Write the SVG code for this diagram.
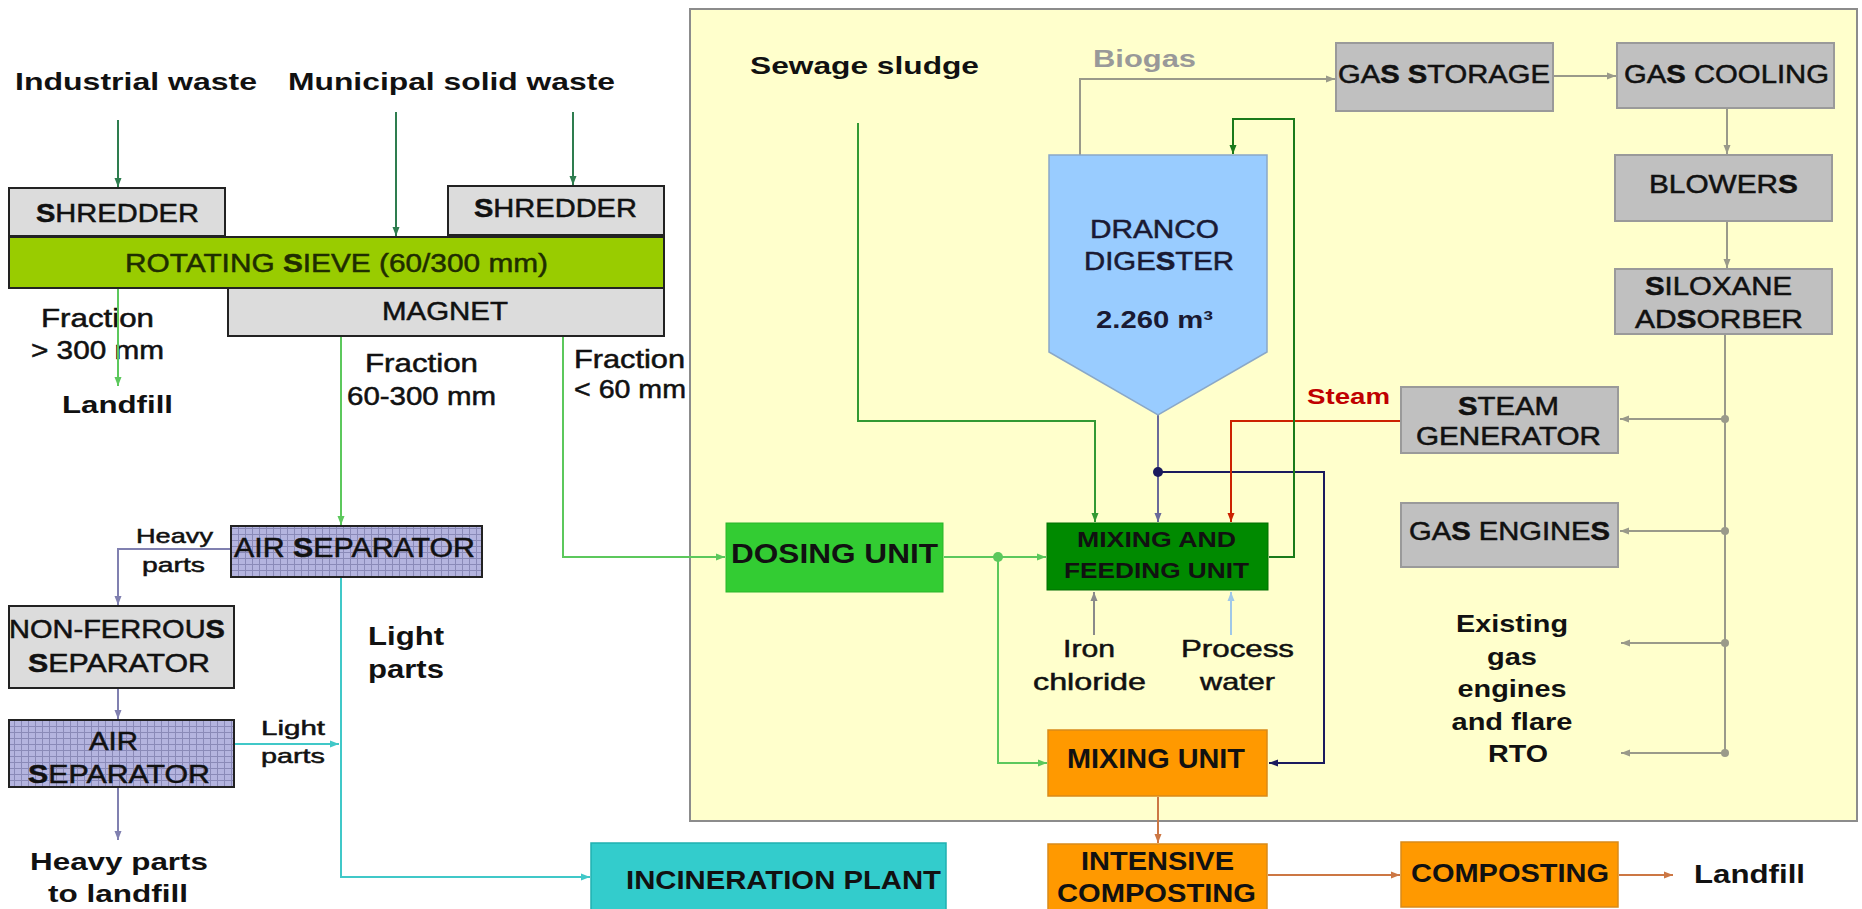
<svg xmlns="http://www.w3.org/2000/svg" width="1862" height="909" viewBox="0 0 1862 909">
<style>
text{font-family:"Liberation Sans",Arial,sans-serif;fill:#111;stroke:#111;stroke-width:0.5;}
.b{font-weight:bold;stroke:none;}
.bs{font-weight:bold;}
.lbl{font-size:24px;font-weight:bold;stroke:none;}
.box{stroke:#222;stroke-width:2;}
.lg{fill:#dcdcdc;}
.gg{fill:#c0c0c0;stroke:#9a9a9a;stroke-width:2;}
.or{fill:#ff9900;stroke:#d98a1a;stroke-width:1.5;}
.ln{fill:none;stroke-width:2;}
</style>
<defs>
<pattern id="grid" width="7" height="6" patternUnits="userSpaceOnUse">
<rect width="7" height="6" fill="#b4b4df"/>
<path d="M0.5,0 V6 M0,0.5 H7" stroke="#8a8ab8" stroke-width="1"/>
</pattern>
<marker id="aDG" markerWidth="10" markerHeight="8" refX="9" refY="4" orient="auto" markerUnits="userSpaceOnUse"><path d="M0,0.5 L9,4 L0,7.5 Z" fill="#2e7d4f"/></marker>
<marker id="aLG" markerWidth="10" markerHeight="8" refX="9" refY="4" orient="auto" markerUnits="userSpaceOnUse"><path d="M0,0.5 L9,4 L0,7.5 Z" fill="#5cc85c"/></marker>
<marker id="aLV" markerWidth="10" markerHeight="8" refX="9" refY="4" orient="auto" markerUnits="userSpaceOnUse"><path d="M0,0.5 L9,4 L0,7.5 Z" fill="#8080b0"/></marker>
<marker id="aCY" markerWidth="10" markerHeight="8" refX="9" refY="4" orient="auto" markerUnits="userSpaceOnUse"><path d="M0,0.5 L9,4 L0,7.5 Z" fill="#40c8c8"/></marker>
<marker id="aGR" markerWidth="10" markerHeight="8" refX="9" refY="4" orient="auto" markerUnits="userSpaceOnUse"><path d="M0,0.5 L9,4 L0,7.5 Z" fill="#9a9a8a"/></marker>
<marker id="aSG" markerWidth="10" markerHeight="8" refX="9" refY="4" orient="auto" markerUnits="userSpaceOnUse"><path d="M0,0.5 L9,4 L0,7.5 Z" fill="#339933"/></marker>
<marker id="aPG" markerWidth="10" markerHeight="8" refX="9" refY="4" orient="auto" markerUnits="userSpaceOnUse"><path d="M0,0.5 L9,4 L0,7.5 Z" fill="#6a6a9a"/></marker>
<marker id="aNV" markerWidth="10" markerHeight="8" refX="9" refY="4" orient="auto" markerUnits="userSpaceOnUse"><path d="M0,0.5 L9,4 L0,7.5 Z" fill="#1a1a5e"/></marker>
<marker id="aRD" markerWidth="10" markerHeight="8" refX="9" refY="4" orient="auto" markerUnits="userSpaceOnUse"><path d="M0,0.5 L9,4 L0,7.5 Z" fill="#cc2200"/></marker>
<marker id="aLP" markerWidth="10" markerHeight="8" refX="9" refY="4" orient="auto" markerUnits="userSpaceOnUse"><path d="M0,0.5 L9,4 L0,7.5 Z" fill="#1a7a1a"/></marker>
<marker id="aIR" markerWidth="10" markerHeight="8" refX="9" refY="4" orient="auto" markerUnits="userSpaceOnUse"><path d="M0,0.5 L9,4 L0,7.5 Z" fill="#8a8a8a"/></marker>
<marker id="aWT" markerWidth="10" markerHeight="8" refX="9" refY="4" orient="auto" markerUnits="userSpaceOnUse"><path d="M0,0.5 L9,4 L0,7.5 Z" fill="#a0c8e8"/></marker>
<marker id="aOR" markerWidth="10" markerHeight="8" refX="9" refY="4" orient="auto" markerUnits="userSpaceOnUse"><path d="M0,0.5 L9,4 L0,7.5 Z" fill="#cc7744"/></marker>
</defs>
<rect width="1862" height="909" fill="#ffffff"/>

<g id="panel">
<rect x="690" y="9" width="1167" height="812" fill="#ffffcc" stroke="#8c8c8c" stroke-width="2"/>
</g>

<g id="labels">
<text class="lbl" x="15" y="90" textLength="242" lengthAdjust="spacingAndGlyphs">Industrial waste</text>
<text class="lbl" x="288" y="90" textLength="327" lengthAdjust="spacingAndGlyphs">Municipal solid waste</text>
<text x="41" y="327" font-size="25" textLength="113" lengthAdjust="spacingAndGlyphs">Fraction</text>
<text x="31" y="359" font-size="25" textLength="133" lengthAdjust="spacingAndGlyphs">&gt; 300 mm</text>
<text class="lbl" x="62" y="413" textLength="111" lengthAdjust="spacingAndGlyphs">Landfill</text>
<text x="365" y="372" font-size="25" textLength="113" lengthAdjust="spacingAndGlyphs">Fraction</text>
<text x="347" y="405" font-size="25" textLength="149" lengthAdjust="spacingAndGlyphs">60-300 mm</text>
<text x="574" y="368" font-size="25" textLength="111" lengthAdjust="spacingAndGlyphs">Fraction</text>
<text x="574" y="398" font-size="25" textLength="112" lengthAdjust="spacingAndGlyphs">&lt; 60 mm</text>
<text x="136" y="543" font-size="21" textLength="77" lengthAdjust="spacingAndGlyphs">Heavy</text>
<text x="142" y="572" font-size="21" textLength="63" lengthAdjust="spacingAndGlyphs">parts</text>
<text x="261" y="735" font-size="21" textLength="64" lengthAdjust="spacingAndGlyphs">Light</text>
<text x="261" y="763" font-size="21" textLength="64" lengthAdjust="spacingAndGlyphs">parts</text>
<text class="b" x="368" y="645" font-size="25" textLength="76" lengthAdjust="spacingAndGlyphs">Light</text>
<text class="b" x="368" y="678" font-size="25" textLength="76" lengthAdjust="spacingAndGlyphs">parts</text>
<text class="lbl" x="30" y="870" textLength="178" lengthAdjust="spacingAndGlyphs">Heavy parts</text>
<text class="lbl" x="48" y="902" textLength="140" lengthAdjust="spacingAndGlyphs">to landfill</text>
<text class="lbl" x="750" y="74" textLength="229" lengthAdjust="spacingAndGlyphs">Sewage sludge</text>
<text class="b" x="1093" y="67" font-size="23" style="fill:#999999" textLength="103" lengthAdjust="spacingAndGlyphs">Biogas</text>
<text class="b" x="1307" y="404" font-size="22" style="fill:#c00000" textLength="83" lengthAdjust="spacingAndGlyphs">Steam</text>
<text x="1063" y="657" font-size="24" textLength="52" lengthAdjust="spacingAndGlyphs">Iron</text>
<text x="1033" y="690" font-size="24" textLength="113" lengthAdjust="spacingAndGlyphs">chloride</text>
<text x="1181" y="657" font-size="24" textLength="113" lengthAdjust="spacingAndGlyphs">Process</text>
<text x="1200" y="690" font-size="24" textLength="75" lengthAdjust="spacingAndGlyphs">water</text>
<g id="existing" font-size="23" text-anchor="middle">
<text class="b" x="1512" y="632" textLength="112" lengthAdjust="spacingAndGlyphs">Existing</text>
<text class="b" x="1512" y="665" textLength="50" lengthAdjust="spacingAndGlyphs">gas</text>
<text class="b" x="1512" y="697" textLength="109" lengthAdjust="spacingAndGlyphs">engines</text>
<text class="b" x="1512" y="730" textLength="121" lengthAdjust="spacingAndGlyphs">and flare</text>
<text class="b" x="1518" y="762" textLength="60" lengthAdjust="spacingAndGlyphs">RTO</text>
</g>
<text class="b" x="1694" y="883" font-size="25" textLength="111" lengthAdjust="spacingAndGlyphs">Landfill</text>
</g>

<g id="connectors">
<path class="ln" d="M118,120 V187" stroke="#2e7d4f" marker-end="url(#aDG)"/>
<path class="ln" d="M396,112 V236" stroke="#2e7d4f" marker-end="url(#aDG)"/>
<path class="ln" d="M573,112 V185" stroke="#2e7d4f" marker-end="url(#aDG)"/>
<path class="ln" d="M118,289 V386" stroke="#5cc85c" marker-end="url(#aLG)"/>
<path class="ln" d="M341,337 V525" stroke="#5cc85c" marker-end="url(#aLG)"/>
<path class="ln" d="M563,337 V557 H725" stroke="#5cc85c" marker-end="url(#aLG)"/>
<path class="ln" d="M231,549 H118 V605" stroke="#8080b0" marker-end="url(#aLV)"/>
<path class="ln" d="M118,689 V719" stroke="#8080b0" marker-end="url(#aLV)"/>
<path class="ln" d="M118,788 V840" stroke="#8080b0" marker-end="url(#aLV)"/>
<path class="ln" d="M235,744 H339" stroke="#40c8c8" marker-end="url(#aCY)"/>
<path class="ln" d="M341,578 V877 H590" stroke="#40c8c8" marker-end="url(#aCY)"/>
<path class="ln" d="M1080,155 V79 H1335" stroke="#9a9a8a" marker-end="url(#aGR)"/>
<path class="ln" d="M1554,76 H1616" stroke="#9a9a8a" marker-end="url(#aGR)"/>
<path class="ln" d="M1727,109 V154" stroke="#9a9a8a" marker-end="url(#aGR)"/>
<path class="ln" d="M1727,222 V268" stroke="#9a9a8a" marker-end="url(#aGR)"/>
<path class="ln" d="M1725,335 V753" stroke="#9a9a8a"/>
<path class="ln" d="M1725,419 H1620" stroke="#9a9a8a" marker-end="url(#aGR)"/>
<path class="ln" d="M1725,531 H1620" stroke="#9a9a8a" marker-end="url(#aGR)"/>
<path class="ln" d="M1725,643 H1621" stroke="#9a9a8a" marker-end="url(#aGR)"/>
<path class="ln" d="M1725,753 H1621" stroke="#9a9a8a" marker-end="url(#aGR)"/>
<circle cx="1725" cy="419" r="4" fill="#9a9a8a"/>
<circle cx="1725" cy="531" r="4" fill="#9a9a8a"/>
<circle cx="1725" cy="643" r="4" fill="#9a9a8a"/>
<circle cx="1725" cy="753" r="4" fill="#9a9a8a"/>
<path class="ln" d="M858,123 V421 H1095 V522" stroke="#339933" marker-end="url(#aSG)"/>
<path class="ln" d="M1158,415 V522" stroke="#6a6a9a" stroke-width="2.5" marker-end="url(#aPG)"/>
<path class="ln" d="M1158,472 H1324 V763 H1269" stroke="#1a1a5e" stroke-width="3" marker-end="url(#aNV)"/>
<circle cx="1158" cy="472" r="5" fill="#1a1a5e"/>
<path class="ln" d="M1404,421 H1231 V522" stroke="#cc2200" marker-end="url(#aRD)"/>
<path class="ln" d="M1269,557 H1294 V119 H1233 V154" stroke="#1a7a1a" marker-end="url(#aLP)"/>
<path class="ln" d="M944,557 H1046" stroke="#5cc85c" stroke-width="3" marker-end="url(#aLG)"/>
<path class="ln" d="M998,557 V763 H1047" stroke="#5cc85c" stroke-width="3" marker-end="url(#aLG)"/>
<circle cx="998" cy="557" r="5" fill="#5cc85c"/>
<path class="ln" d="M1094,635 V592" stroke="#8a8a8a" marker-end="url(#aIR)"/>
<path class="ln" d="M1231,635 V592" stroke="#a0c8e8" marker-end="url(#aWT)"/>
<path class="ln" d="M1158,797 V843" stroke="#cc7744" marker-end="url(#aOR)"/>
<path class="ln" d="M1268,875 H1400" stroke="#cc7744" marker-end="url(#aOR)"/>
<path class="ln" d="M1619,875 H1673" stroke="#cc7744" marker-end="url(#aOR)"/>
</g>

<g id="shredder-left">
<rect class="box lg" x="9" y="188" width="216" height="48"/>
<text x="36" y="222" font-size="26" textLength="163" lengthAdjust="spacingAndGlyphs"><tspan class="bs">S</tspan>HREDDER</text>
</g>
<g id="shredder-right">
<rect class="box lg" x="448" y="186" width="216" height="49"/>
<text x="474" y="217" font-size="26" textLength="163" lengthAdjust="spacingAndGlyphs"><tspan class="bs">S</tspan>HREDDER</text>
</g>
<g id="sieve">
<rect class="box" x="9" y="237" width="655" height="51" fill="#99cc00"/>
<text x="125" y="272" font-size="26" style="fill:#1f2d00;stroke:#1f2d00" textLength="423" lengthAdjust="spacingAndGlyphs">ROTATING <tspan class="bs">S</tspan>IEVE (60/300 mm)</text>
</g>
<g id="magnet">
<rect class="box lg" x="228" y="288" width="436" height="48"/>
<text x="382" y="320" font-size="26" textLength="126" lengthAdjust="spacingAndGlyphs">MAGNET</text>
</g>
<g id="air-separator-1">
<rect class="box" x="231" y="526" width="251" height="51" fill="url(#grid)"/>
<text x="234" y="557" font-size="27" textLength="241" lengthAdjust="spacingAndGlyphs">AIR <tspan class="bs">S</tspan>EPARATOR</text>
</g>
<g id="non-ferrous">
<rect class="box lg" x="9" y="606" width="225" height="82"/>
<text x="9" y="638" font-size="25" textLength="216" lengthAdjust="spacingAndGlyphs">NON-FERROU<tspan class="bs">S</tspan></text>
<text x="28" y="672" font-size="25" textLength="182" lengthAdjust="spacingAndGlyphs"><tspan class="bs">S</tspan>EPARATOR</text>
</g>
<g id="air-separator-2">
<rect class="box" x="9" y="720" width="225" height="67" fill="url(#grid)"/>
<text x="89" y="750" font-size="25" textLength="49" lengthAdjust="spacingAndGlyphs">AIR</text>
<text x="28" y="783" font-size="25" textLength="182" lengthAdjust="spacingAndGlyphs"><tspan class="bs">S</tspan>EPARATOR</text>
</g>
<g id="incineration">
<rect x="591" y="843" width="355" height="72" fill="#33cccc" stroke="#20b0b0" stroke-width="1.5"/>
<text class="b" x="626" y="889" font-size="25" textLength="315" lengthAdjust="spacingAndGlyphs">INCINERATION PLANT</text>
</g>
<g id="digester">
<polygon points="1049,155 1267,155 1267,352 1158,415 1049,352" fill="#99ccff" stroke="#8aa8c8" stroke-width="1.5"/>
<text x="1090" y="238" font-size="25" style="fill:#1a1a33;stroke:#1a1a33" textLength="129" lengthAdjust="spacingAndGlyphs">DRANCO</text>
<text x="1084" y="270" font-size="25" style="fill:#1a1a33;stroke:#1a1a33" textLength="150" lengthAdjust="spacingAndGlyphs">DIGE<tspan class="bs">S</tspan>TER</text>
<text class="b" x="1096" y="328" font-size="24" style="fill:#1a1a33" textLength="117" lengthAdjust="spacingAndGlyphs">2.260 m³</text>
</g>
<g id="gas-storage">
<rect class="gg" x="1336" y="43" width="217" height="68"/>
<text x="1338" y="83" font-size="26" textLength="212" lengthAdjust="spacingAndGlyphs">GA<tspan class="bs">S</tspan> <tspan class="bs">S</tspan>TORAGE</text>
</g>
<g id="gas-cooling">
<rect class="gg" x="1617" y="43" width="217" height="65"/>
<text x="1624" y="83" font-size="26" textLength="205" lengthAdjust="spacingAndGlyphs">GA<tspan class="bs">S</tspan> COOLING</text>
</g>
<g id="blowers">
<rect class="gg" x="1615" y="155" width="217" height="66"/>
<text x="1649" y="193" font-size="26" textLength="149" lengthAdjust="spacingAndGlyphs">BLOWER<tspan class="bs">S</tspan></text>
</g>
<g id="siloxane">
<rect class="gg" x="1615" y="269" width="217" height="65"/>
<text x="1645" y="295" font-size="25" textLength="147" lengthAdjust="spacingAndGlyphs"><tspan class="bs">S</tspan>ILOXANE</text>
<text x="1635" y="328" font-size="25" textLength="168" lengthAdjust="spacingAndGlyphs">AD<tspan class="bs">S</tspan>ORBER</text>
</g>
<g id="steam-generator">
<rect class="gg" x="1401" y="387" width="217" height="66"/>
<text x="1458" y="415" font-size="25" textLength="101" lengthAdjust="spacingAndGlyphs"><tspan class="bs">S</tspan>TEAM</text>
<text x="1416" y="445" font-size="25" textLength="185" lengthAdjust="spacingAndGlyphs">GENERATOR</text>
</g>
<g id="gas-engines">
<rect class="gg" x="1401" y="503" width="217" height="64"/>
<text x="1409" y="540" font-size="25" textLength="201" lengthAdjust="spacingAndGlyphs">GA<tspan class="bs">S</tspan> ENGINE<tspan class="bs">S</tspan></text>
</g>
<g id="dosing">
<rect x="726" y="523" width="217" height="69" fill="#33cc33" stroke="#2bb52b" stroke-width="1"/>
<text class="b" x="731" y="563" font-size="27" textLength="207" lengthAdjust="spacingAndGlyphs">DOSING UNIT</text>
</g>
<g id="mixing-feeding">
<rect x="1047" y="523" width="221" height="67" fill="#008a00" stroke="#006f00" stroke-width="1"/>
<text class="b" x="1077" y="547" font-size="22" textLength="159" lengthAdjust="spacingAndGlyphs">MIXING AND</text>
<text class="b" x="1064" y="578" font-size="22" textLength="185" lengthAdjust="spacingAndGlyphs">FEEDING UNIT</text>
</g>
<g id="mixing-unit">
<rect class="or" x="1048" y="730" width="219" height="66"/>
<text class="b" x="1067" y="768" font-size="27" textLength="178" lengthAdjust="spacingAndGlyphs">MIXING UNIT</text>
</g>
<g id="intensive-composting">
<rect class="or" x="1048" y="844" width="219" height="70"/>
<text class="b" x="1081" y="870" font-size="25" textLength="153" lengthAdjust="spacingAndGlyphs">INTEN<tspan class="bs">S</tspan>IVE</text>
<text class="b" x="1057" y="902" font-size="25" textLength="199" lengthAdjust="spacingAndGlyphs">COMPOSTING</text>
</g>
<g id="composting">
<rect class="or" x="1401" y="842" width="217" height="65"/>
<text class="b" x="1411" y="882" font-size="25" textLength="198" lengthAdjust="spacingAndGlyphs">COMPOSTING</text>
</g>
</svg>
